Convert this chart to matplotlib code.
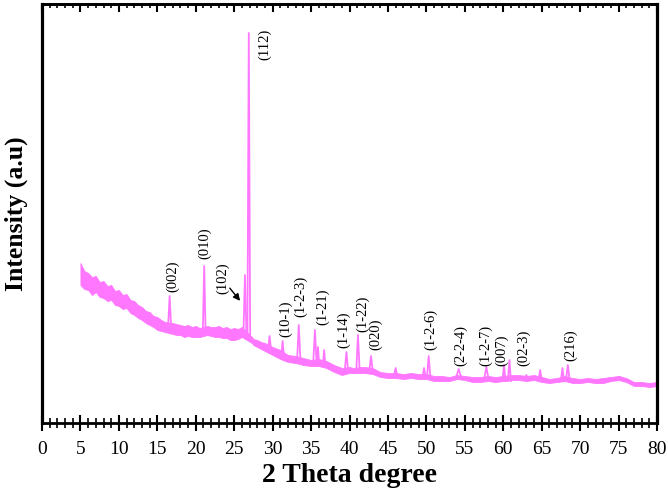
import numpy as np
import matplotlib
matplotlib.use("Agg")
import matplotlib.pyplot as plt

# ---- data (2θ in degrees, intensity in arbitrary units) ----
bg_theta = [5.0, 5.5, 6.0, 6.5, 7.0, 7.5, 8.0, 8.5, 9.0, 9.5, 10.0, 10.5, 11.0,
            11.5, 12.0, 12.5, 13.0, 13.5, 14.0, 14.5, 15.0, 15.5, 16.0, 17.0,
            17.5, 18.0, 18.5, 19.0, 19.5, 20.0, 20.5, 21.5, 22.0, 22.5, 23.0,
            23.5, 24.0, 24.5, 25.0, 25.5, 26.0, 27.3, 27.5, 28.0, 28.5, 29.0,
            29.5, 30.0, 31.0, 32.0, 33.0, 34.0, 35.0, 36.0, 37.0, 37.5, 38.0,
            39.0, 40.0, 40.5, 41.5, 42.0, 43.0, 44.0, 45.0, 46.0, 47.0, 48.0,
            49.0, 50.0, 51.0, 52.0, 53.0, 54.0, 55.0, 56.0, 57.0, 58.0, 59.0,
            60.0, 61.0, 62.0, 63.0, 64.0, 65.0, 66.0, 67.0, 68.0, 69.0, 70.0,
            71.0, 72.0, 73.0, 74.0, 75.0, 76.0, 77.0, 78.0, 79.0, 80.0]
bg_high = [160, 152, 150, 146, 147, 141, 142, 137, 138, 132, 133, 128, 129,
           123, 122, 118, 116, 112, 111, 107, 106, 103, 101, 100,
           99, 98, 97, 98, 96, 97, 95, 97, 96, 96, 97,
           95, 96, 94, 95, 94, 96, 86, 84, 83, 81, 80,
           78, 76, 73, 68, 67, 65, 63, 64, 62, 60, 58,
           55, 56, 55, 56, 56, 55, 51, 50, 50, 49, 50,
           49, 49, 47, 47, 46, 48, 47, 46, 46, 47, 46,
           47, 48, 48, 47, 48, 46, 44, 45, 47, 45, 44,
           45, 44, 45, 46, 47, 45, 41, 41, 40, 41]
bg_low = [138, 134, 133, 128, 131, 126, 125, 122, 123, 118, 117, 114, 115,
          110, 108, 105, 103, 100, 98, 96, 93, 92, 91, 89,
          88, 88, 86, 87, 86, 86, 86, 88, 87, 86, 86,
          85, 85, 83, 83, 84, 86, 80, 78, 76, 74, 72,
          70, 68, 64, 61, 60, 58, 57, 57, 55, 53, 51,
          48, 50, 50, 50, 50, 49, 46, 45, 45, 44, 45,
          44, 44, 42, 42, 42, 44, 43, 41, 41, 42, 41,
          42, 43, 43, 42, 43, 41, 40, 41, 42, 40, 40,
          41, 40, 40, 42, 43, 41, 37, 37, 36, 37]

peak_theta = [16.6, 21.1, 26.4, 26.9, 29.6, 31.3, 33.4, 35.5, 35.9, 36.7, 39.6,
              41.1, 42.8, 46.0, 49.7, 50.3, 54.2, 57.8, 60.1, 60.8, 63.0, 64.8,
              67.7, 68.4, 75.2]
peak_top = [127, 157, 148, 390, 87, 82, 98, 93, 76, 73, 71,
            88, 67, 55, 55, 67, 54, 56, 58, 63, 48, 53,
            55, 58, 46]
peak_base = [92, 90, 88, 84, 74, 66, 62, 60, 58, 58, 52,
             52, 52, 48, 46, 46, 44, 43, 42, 42, 44, 43,
             42, 42, 43]

hkl_labels = ["(002)", "(010)", "(102)", "(112)", "(10-1)", "(1-2-3)", "(1-21)",
              "(1-14)", "(1-22)", "(020)", "(1-2-6)", "(2-2-4)", "(1-2-7)",
              "(007)", "(02-3)", "(216)"]
label_theta = [17.0, 21.1, 23.5, 29.0, 31.7, 33.6, 36.5, 39.3, 41.7, 43.4,
               50.5, 54.4, 57.7, 59.8, 62.7, 68.8]
label_int = [147, 180, 145, 379, 104, 127, 116, 93, 109, 89,
             94, 78, 78, 73, 75, 78]

x_ticks = list(range(0, 81, 5))

# ---- style ----
color = "#FF77FF"
plt.rcParams['font.family'] = ['Liberation Serif', 'DejaVu Serif']

fig = plt.figure(figsize=(6.68, 4.94), dpi=100)
ax = fig.add_axes([42 / 668, 1 - 423 / 494, (657 - 42) / 668, (423 - 4) / 494])

ax.fill_between(bg_theta, bg_low, bg_high, color=color, linewidth=0.6)

peak_w = [0.22, 0.18, 0.2, 0.18, 0.18, 0.18, 0.22, 0.22, 0.15, 0.15, 0.22,
          0.22, 0.22, 0.2, 0.2, 0.22, 0.4, 0.3, 0.2, 0.2, 0.2, 0.2,
          0.2, 0.25, 0.4]
for p, t, b, w in zip(peak_theta, peak_top, peak_base, peak_w):
    ax.plot([p - w, p, p + w], [b, t, b], color=color, linewidth=1.3)

for lab, lx, ly in zip(hkl_labels, label_theta, label_int):
    ax.text(lx, ly, lab, rotation=90, ha='center', va='center', fontsize=10.5)

ax.annotate("", xy=(26.0, 120), xytext=(24.2, 137),
            arrowprops=dict(arrowstyle="-|>", color="black", lw=1.0,
                            mutation_scale=10))

ax.set_xlim(0, 80)
ax.set_ylim(0, 419)
ax.set_yticks([])
ax.set_xticks(x_ticks)
ax.set_xticks(range(0, 81), minor=True)
ax.tick_params(axis='x', which='major', direction='inout', length=11.5, width=1.5,
               labelsize=14, pad=7, top=False)
ax.tick_params(axis='x', which='minor', direction='inout', length=6.5, width=1.2, top=False)

top = ax.secondary_xaxis('top')
top.set_xticks(x_ticks)
top.set_xticks(range(0, 81), minor=True)
top.tick_params(which='major', direction='in', length=6, width=1.5, labeltop=False)
top.tick_params(which='minor', direction='in', length=3, width=1.2)
top.spines['top'].set_linewidth(2)

for s in ['left', 'right']:
    ax.spines[s].set_linewidth(2.3)
for s in ['top', 'bottom']:
    ax.spines[s].set_linewidth(2)

ax.set_xlabel("2 Theta degree", fontsize=20, fontweight='bold', labelpad=4)
ax.set_ylabel("Intensity (a.u)", fontsize=18.5, fontweight='bold', labelpad=10)

fig.savefig("out.png", dpi=100)
